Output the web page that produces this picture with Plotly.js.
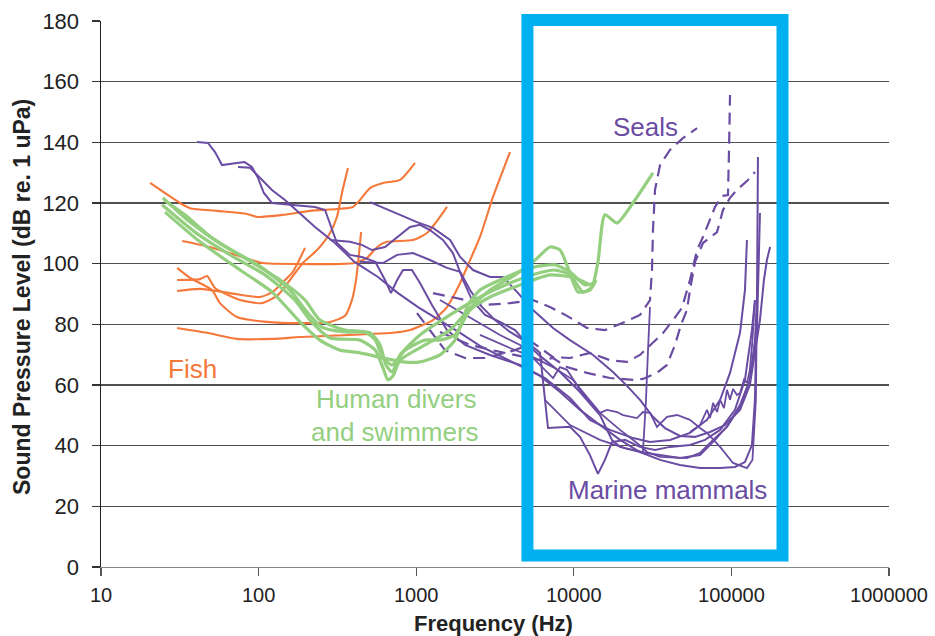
<!DOCTYPE html>
<html>
<head>
<meta charset="utf-8">
<script src="https://cdn.plot.ly/plotly-3.0.1.min.js"></script>
<style>html,body{margin:0;padding:0;background:#fff;}#chart{width:935px;height:636px;}</style>
</head>
<body>
<div id="chart"></div>
<script>
// ---- Axis ticks ----
const xTickVals = [10, 100, 1000, 10000, 100000, 1000000];
const xTickText = ['10', '100', '1000', '10000', '100000', '1000000'];
const yTickVals = [0, 20, 40, 60, 80, 100, 120, 140, 160, 180];
const highlightBandHz = [5080, 211000];

// ---- Fish (Hz, dB) ----
const fish1Hz = [20.5,31.7,36.7,54.4,84.4,97.7,143,212,314,397,440,509,616,790,983];
const fish1Db = [126.6,120,118.3,117.4,116.4,115.4,116.1,117.4,118,118.7,121,124.9,126.6,127.6,133.2];
const fish2Hz = [32.7,49.1,70.8,106.6,183,328,409,487,566,650,954,1171,1415,1567];
const fish2Db = [107.5,105.5,102.9,100.2,99.9,99.9,100.2,101.9,105.5,107.2,107.8,110.1,115.4,118.7];
const fish3Hz = [30.4,36.7,50.6,56.9,72.9,113,183,284,353,391,415,433,447];
const fish3Db = [98.6,95.3,91.3,87,82.4,80.8,80.4,80.8,82.8,88,94.6,102.9,110.4];
const fish4Hz = [30.4,42.5,47.1,52.9,76.4,105,133,158,191,235,284,314,338,369];
const fish4Db = [94.6,94.9,95.9,92,88,87,89.7,94.6,100.2,104.5,110.1,115.4,123.3,131.5];
const fish5Hz = [30.4,42.5,65.9,102,123,143,165,197];
const fish5Db = [91,91.7,90.3,89,90.7,94,97.3,105.2];
const fish6Hz = [30.4,47.1,72.9,123,183,712,913,1278,1567,1900,2102,2539,3071,3768,3936];
const fish6Db = [78.8,77.2,75.2,75.2,75.8,77.2,78.1,81.4,85.7,93.6,98.9,108.8,122,134.2,136.8];

// ---- Human divers and swimmers ----
const diver1Hz = [24.7,36.7,58.6,99.1,158,203,252,353,509,590,642,703,790,1057,1641,2539,3936,5686,7604,9460,11430,13040,14230,15760,18830,23740,31800];
const diver1Db = [121.7,113.7,106.2,99.6,91.3,84.1,79.1,77.5,77.2,73.2,66.6,64.3,69.9,76.5,83.1,89,93.6,96.6,97.9,96.3,90.7,92.3,100.6,116.1,113.4,120,129.9];
const diver2Hz = [24.4,39.5,65.9,109.8,170,212,284,440,550,616,662,712,790,1137,1641,2196,2940,4238,5686,7060,8180,9185,10630,12660,13830];
const diver2Db = [119.4,110.4,102.9,96.3,88,81.4,75.5,74.8,71.5,65.6,61.7,63,68.2,73.2,78.1,85.4,91.3,96.3,101.2,105.5,104.5,98.6,90.7,91.3,94.6];
const diver3Hz = [25.5,42.5,76.4,121.5,183,245,328,440,616,825,1057,1415,1761,2133,2539,3400,5270,7604,9460,11770,13630];
const diver3Db = [117,107.2,97.9,90.7,80.8,74.8,71.5,70.6,68.9,67.6,67.6,69.9,74.8,86.4,91.3,94.6,98.6,99.6,97.3,93,93.6];
const diver4Hz = [25.1,34.1,50.6,81.4,137,197,245,353,473,550,616,703,850,1137,1415,1761,2196,2940,4563,7060,10180,12660];
const diver4Db = [121,116.1,108.5,101.9,94.6,88,81.4,78.1,77.5,74.8,68.9,66.6,71.5,74.8,74.8,76.5,84.7,89,93,96.3,95.3,93];

// ---- Marine mammals (solid) ----
const mamAHz = [40.6,47.7,52.9,58.6,72.9,81.4,90.8,99.1,108,121.5,158,228,264,284,314,380,452,550,634,692,757,825,940,1057,1259,1567,2041,2940,4563,6560,9460,12660,16950,23800,30440,40760,54600,70000,84800,98000,113400,121900,125500];
const mamADb = [140.1,139.8,136.8,132.5,133.2,133.5,131.9,128.3,123.3,120,119.4,118.7,117.7,112.8,106.8,102.9,102.2,100.6,94.6,90.3,94.6,97.9,97.9,93.6,86.4,78.1,73.2,69.9,66.6,62.3,55.7,48.5,45.2,42.5,41.2,41.9,44.2,48.5,55.1,64,77.2,91.3,107.8];
const mamBHz = [74,88.2,102,121.5,147,183,228,305,406,572,767,1027,1415,1900,2539,3400,4563,6106,8180,10950,14650,19650,26300,35250,47150,63200,84800,105400,121900,135000,141000,145300,147400];
const mamBDb = [131.9,131.6,128.3,124.3,121,116.7,112.1,106.8,100.6,95.6,90.3,85.7,81.4,77.2,72.9,69.6,66.3,63,57.7,51.8,46.8,41.9,37.9,35.3,33.6,32.6,32.6,33,34.6,40.2,55.1,88,135.2];
const mamCHz = [509,634,790,1012,1278,1641,1900,2293,2940,3550,4360,5510,7380,9460,13250,17720,21760,26300,31800,37900,47150,58800,73150,91060,113400,131000,151800,160800,168000,176000];
const mamCDb = [120.3,118.3,116.1,113.7,111.8,107.8,102.2,97.9,95.6,95.6,90.7,84.7,78.8,74.8,69.9,64.3,59.7,55.1,49.5,45.8,43.2,42.9,44.5,46.8,51.8,60,81.4,94.6,101.2,105.5];
const mamDHz = [284,380,452,524,634,757,913,1057,1223,1478,1710,1983,2260,2735,3400,4238,5120,6106,8180,10950,14650,17450,19650,26300,35250,47150,63200,78700,95100,113400,131000,145300,151800];
const mamDDb = [107.8,107.2,106.2,104.5,105.5,108.8,112.1,112.8,111.1,107.8,103.5,94.6,88,83.1,80.8,78.1,73.2,69.6,64.3,57.7,50.1,41.9,39.6,37.9,36.9,35.9,36.9,41.9,46.8,53.4,61.7,78.1,116.7];
const mamEHz = [440,616,757,954,1223,1567,1900,2196,2539,3165,3936,5120,6106,6860,9460,10950,12660,14230,15760,17450,21140,26300,32750,40760,54600,67980,84800,105400,121900,135000,141000];
const mamEDb = [100.6,100.2,102.9,103.5,101.2,98.6,97.3,91.3,86.4,81.4,77.5,73.9,70.6,45.8,46.2,42.9,36.9,30.7,35.3,41.2,41.9,39.6,38.6,39.6,40.2,41.9,45.2,51.8,61.7,78.1,88];
const mamFHz = [1415,2196,3400,4563,5510,7380,8180,9050,10950,14650,16230,18830,20530,25170,27460,30440,33710,39010,45240,54600,63200,70000,84800,102400,125500,136000,143000,145300];
const mamFDb = [88,82.1,76.5,73.2,68.9,62.3,65.9,65,58.4,50.8,51.8,51.1,50.1,49.1,51.1,50.8,46.2,49.5,50.1,48.5,45.8,44.2,39.6,34.3,32.6,35.3,55.1,88];
const mamGHz = [2539,3936,5510,7380,9880,12120,14650,19650,25170,29140,35250,52230,63200,76480,93770,113400,131000,141000,147400];
const mamGDb = [76.5,72.2,69.2,65.9,61.7,56,50.8,45.2,40.9,37.9,36.3,35.9,37.6,41.9,46.2,52.8,61.7,74.8,94.6];
const mamHHz = [54600,63200,70000,73150,76480,81060,84800,89740,93770,98000,102400,108500,113400,120200,125500,131000,136000,141000];
const mamHDb = [44.5,46.8,51.8,49.1,54.1,51.1,55.1,52.4,58.4,55.1,58.7,56.7,57.4,61.7,60.7,65,74.8,88];
const mamIHz = [6560,9460,14650,21140,27460,28710,29570,30440];
const mamIDb = [55.1,46.8,41.9,39.2,37.9,55.1,71.5,85.7];

// ---- Seals (dashed) ----
const seal1Hz = [1278,1900,2735,3936,5510,7060,9050,12120,15760,21140,26300,30440,31340,31800,32750,35250,40760,49280,60530];
const seal1Db = [90.3,88.4,86.4,87,88,85.7,82.8,78.8,78.1,80.8,83.1,88,97.9,111.1,124.3,132.5,137.5,141.4,144.7];
const seal2Hz = [1012,1223,1522,2041,2735,3400,4238,5510,7380,9460,12660,16950,21760,26300,31800,36910,42620,48560,54600,60530,66010,73150,78730,87170,95100,96600,98000];
const seal2Db = [83.7,78.1,71.5,68.9,68.9,70.2,71.5,73.9,69.2,68.9,70.6,68.2,67.6,69.9,73.9,77.2,81.4,85.4,94.6,104.5,108.8,114.4,118.7,122.3,122.6,137.5,155.6];
const seal3Hz = [1415,2196,3400,4563,6106,7380,9050,12120,16950,23740,27460,33710,39010,43840,47840,52230,54600,58800,66010,81060,88450,98000,108500,127400,141000];
const seal3Db = [77.5,73.2,70.9,69.6,68.2,68.9,65.9,64,62.3,61.7,62,64,66.6,73.2,79.8,84.7,91.3,100.6,106.8,110.4,117.7,121.7,124.3,127.6,130.2];

// ---- Styling ----
const ORANGE = '#f4783a', GREEN = '#93cf7f', PURPLE = '#6a4ca3', BLUE = '#00b0f0';
const FONT = 'Liberation Sans, Arial, sans-serif';

function tr(x, y, color, width, dash, shape) {
  return {x: x, y: y, type: 'scatter', mode: 'lines', hoverinfo: 'skip',
    line: {color: color, width: width, dash: dash || 'solid', shape: shape || 'linear', smoothing: 0.6}};
}

const traces = [
  tr(fish1Hz, fish1Db, ORANGE, 2.1, null, 'spline'),
  tr(fish2Hz, fish2Db, ORANGE, 2.1, null, 'spline'),
  tr(fish3Hz, fish3Db, ORANGE, 2.1, null, 'spline'),
  tr(fish4Hz, fish4Db, ORANGE, 2.1, null, 'spline'),
  tr(fish5Hz, fish5Db, ORANGE, 2.1, null, 'spline'),
  tr(fish6Hz, fish6Db, ORANGE, 2.1, null, 'spline'),
  tr(mamAHz, mamADb, PURPLE, 2),
  tr(mamBHz, mamBDb, PURPLE, 2),
  tr(mamCHz, mamCDb, PURPLE, 2),
  tr(mamDHz, mamDDb, PURPLE, 2),
  tr(mamEHz, mamEDb, PURPLE, 2),
  tr(mamFHz, mamFDb, PURPLE, 1.8),
  tr(mamGHz, mamGDb, PURPLE, 1.8),
  tr(mamHHz, mamHDb, PURPLE, 1.8),
  tr(mamIHz, mamIDb, PURPLE, 1.8),
  tr(seal1Hz, seal1Db, PURPLE, 2.2, '12px,7px'),
  tr(seal2Hz, seal2Db, PURPLE, 2.2, '12px,7px'),
  tr(seal3Hz, seal3Db, PURPLE, 2.2, '12px,7px'),
  tr(diver1Hz, diver1Db, GREEN, 3.2, null, 'spline'),
  tr(diver2Hz, diver2Db, GREEN, 3.2, null, 'spline'),
  tr(diver3Hz, diver3Db, GREEN, 3.2, null, 'spline'),
  tr(diver4Hz, diver4Db, GREEN, 3.2, null, 'spline')
];

const labelFont = (c) => ({family: FONT, size: 26, color: c});
const layout = {
  width: 935, height: 636,
  margin: {l: 101, r: 46, t: 21, b: 69},
  paper_bgcolor: '#ffffff', plot_bgcolor: '#ffffff',
  showlegend: false,
  xaxis: {
    type: 'log', range: [1, 6], tickvals: xTickVals, ticktext: xTickText,
    ticks: 'outside', ticklen: 8, tickcolor: '#555', tickwidth: 1.2,
    showline: true, linecolor: '#888', linewidth: 1.3,
    showgrid: false, zeroline: false, fixedrange: true,
    tickfont: {family: FONT, size: 20, color: '#222'}, ticklabelstandoff: 2
  },
  yaxis: {
    range: [0, 180], tickvals: yTickVals,
    ticks: 'outside', ticklen: 8, tickcolor: '#333', tickwidth: 1.2,
    showline: true, linecolor: '#222', linewidth: 1.5,
    showgrid: true, gridcolor: '#505050', gridwidth: 1.4, zeroline: false, fixedrange: true,
    tickfont: {family: FONT, size: 22, color: '#222'}, ticklabelstandoff: 8
  },
  shapes: [{
    type: 'rect', xref: 'x', yref: 'paper',
    x0: highlightBandHz[0], x1: highlightBandHz[1], y0: 0.021, y1: 1.0018,
    line: {color: BLUE, width: 12}, fillcolor: 'rgba(0,0,0,0)', layer: 'above'
  }],
  annotations: [
    {text: '<b>Frequency (Hz)</b>', xref: 'paper', yref: 'paper', x: 0.4975, y: -0.1026,
     showarrow: false, xanchor: 'center', yanchor: 'middle', font: {family: FONT, size: 22, color: '#222'}},
    {text: '<b>Sound Pressure Level (dB re. 1 uPa)</b>', xref: 'paper', yref: 'paper', x: -0.1003, y: 0.4945,
     textangle: -90, showarrow: false, xanchor: 'center', yanchor: 'middle', font: {family: FONT, size: 23, color: '#222'}},
    {text: 'Fish', xref: 'paper', yref: 'paper', x: 0.1161, y: 0.3626, showarrow: false,
     xanchor: 'center', yanchor: 'middle', font: labelFont(ORANGE)},
    {text: 'Human divers', xref: 'paper', yref: 'paper', x: 0.3744, y: 0.3077, showarrow: false,
     xanchor: 'center', yanchor: 'middle', font: labelFont(GREEN)},
    {text: 'and swimmers', xref: 'paper', yref: 'paper', x: 0.3731, y: 0.2473, showarrow: false,
     xanchor: 'center', yanchor: 'middle', font: labelFont(GREEN)},
    {text: 'Seals', xref: 'paper', yref: 'paper', x: 0.6904, y: 0.8059, showarrow: false,
     xanchor: 'center', yanchor: 'middle', font: labelFont(PURPLE)},
    {text: 'Marine mammals', xref: 'paper', yref: 'paper', x: 0.7183, y: 0.141, showarrow: false,
     xanchor: 'center', yanchor: 'middle', font: labelFont(PURPLE)}
  ]
};

Plotly.newPlot('chart', traces, layout, {staticPlot: true, displayModeBar: false});
</script>
</body>
</html>
